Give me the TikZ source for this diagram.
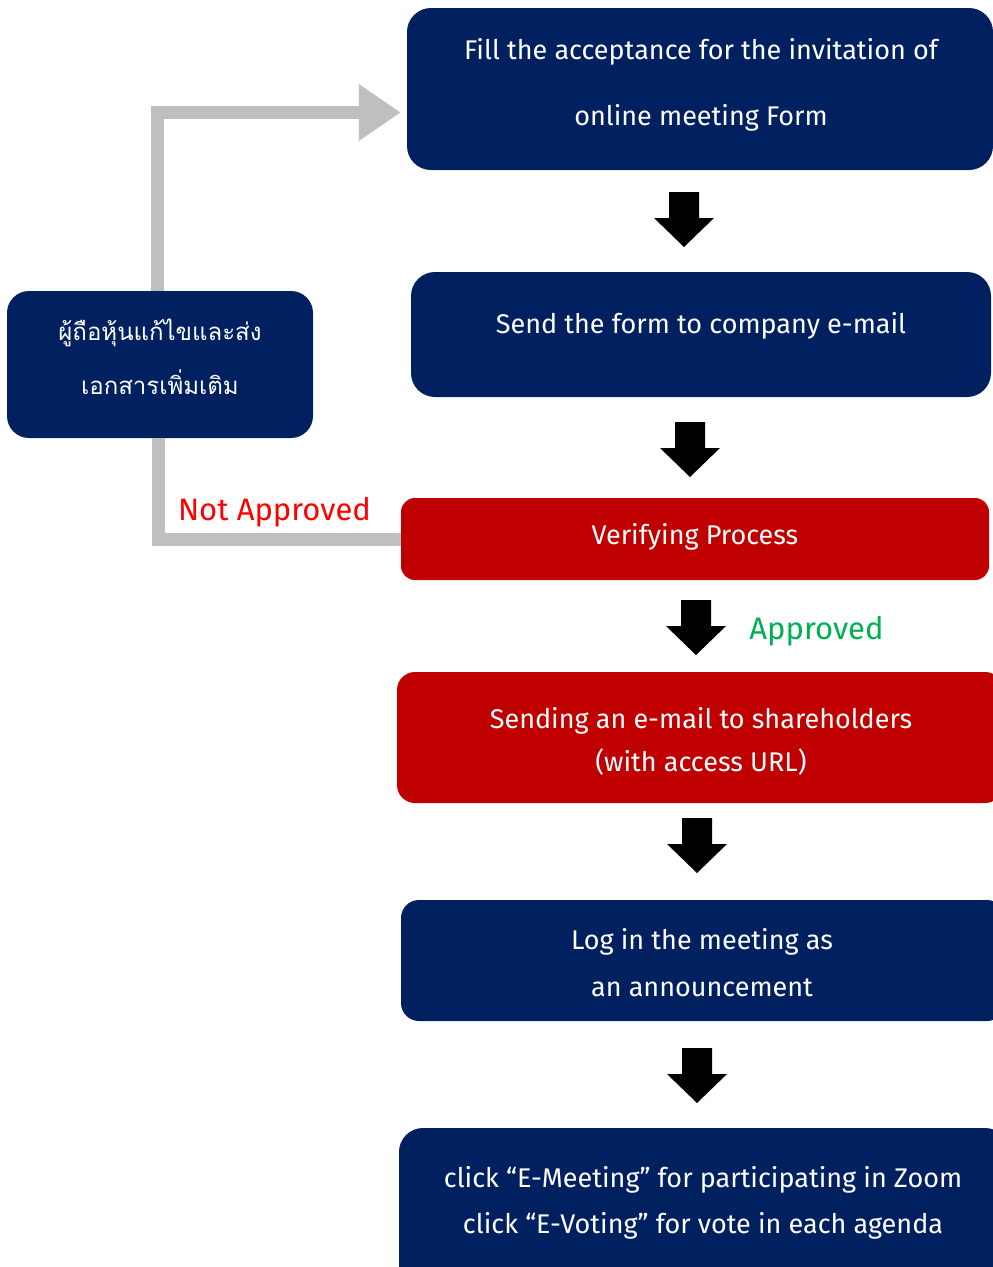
\documentclass[tikz,border=0pt]{standalone}
\usepackage{fontspec}
\setmainfont{Fira Sans}
\newfontfamily\thaifont[Script=Thai]{Loma}
\usetikzlibrary{arrows.meta,calc}
\definecolor{navy}{HTML}{002060}
\definecolor{dred}{HTML}{C00000}
\definecolor{greyc}{HTML}{BFBFBF}
\definecolor{okgreen}{HTML}{00B050}
\definecolor{nored}{HTML}{FF0000}
\tikzset{
  box/.style={draw=none, inner sep=0pt, rounded corners=#1, minimum width=0pt},
  box/.default=24pt,
  navybox/.style={box=#1, fill=navy},
  navybox/.default=24pt,
  redbox/.style={box=#1, fill=dred},
  redbox/.default=14pt,
  txt/.style={text=white, align=center, font=\fontsize{27}{32}\selectfont, inner sep=0pt},
  greyline/.style={draw=greyc, line width=13pt, line join=miter},
  blockarrow/.pic={\fill[black] (-15,-27.5) -- (15,-27.5) -- (15,-1.5) -- (30,-1.5) -- (0,27.5) -- (-30,-1.5) -- (-15,-1.5) -- cycle;}
}
\begin{document}
\begin{tikzpicture}[x=1pt,y=-1pt]
\useasboundingbox (0,0) rectangle (993,1267);
\clip (0,0) rectangle (993,1267);
\fill[white] (0,0) rectangle (993,1267);
% boxes
\node[navybox, minimum width=586pt, minimum height=162pt] (b1) at (700,89) {};
\node[navybox, minimum width=580pt, minimum height=125pt] (b2) at (701,334.5) {};
\node[redbox, minimum width=588pt, minimum height=82pt] (r1) at (695,539) {};
\node[redbox=18pt, minimum width=606pt, minimum height=131pt] (r2) at (700,737.5) {};
\node[navybox=18pt, minimum width=604pt, minimum height=121pt] (l1) at (703,960.5) {};
\node[navybox, minimum width=610pt, minimum height=164pt] (z1) at (704,1210) {};
\node[navybox=22pt, minimum width=306pt, minimum height=147pt] (th) at (160,364.5) {};
% texts
\node[txt] (b1a) at (701,52) {Fill the acceptance for the invitation of};
\node[txt] (b1b) at (701,118) {online meeting Form};
\node[txt] (b2t) at (701,326) {Send the form to company e-mail};
\node[txt] (r1t) at (695,537) {Verifying Process};
\node[txt] (r2a) at (701,721) {Sending an e-mail to shareholders};
\node[txt] (r2b) at (701,762) {(with access URL)};
\node[txt] (l1a) at (702,942) {Log in the meeting as};
\node[txt] (l1b) at (702,988) {an announcement};
\node[txt] (z1a) at (703,1180) {click “E-Meeting” for participating in Zoom};
\node[txt] (z1b) at (703,1226) {click “E-Voting” for vote in each agenda};
\node[txt, font=\thaifont\fontsize{24}{29}\selectfont] (tha) at (160,333) {ผู้ถือหุ้นแก้ไขและส่ง};
\node[txt, font=\thaifont\fontsize{24}{29}\selectfont] (thb) at (160,382) {เอกสารเพิ่มเติม};
% grey connectors
\draw[greyline, -{Triangle[length=42pt,width=54pt]}]
  ($(th.north)+(-2.5,0)$) |- ($(b1.west)+(-6,23.5)$);
\draw[greyline] ($(th.south)+(-1.5,0)$) |- (r1.west);
% labels
\node[text=nored, font=\fontsize{31}{36}\selectfont, inner sep=0pt] (na) at (274.5,512) {Not Approved};
\node[text=okgreen, font=\fontsize{31}{36}\selectfont, inner sep=0pt] (ap) at (816.5,631) {Approved};
% block arrows
\pic at (684,219.5) {blockarrow};
\pic at (690,449.5) {blockarrow};
\pic at (696,627.5) {blockarrow};
\pic at (697,845.5) {blockarrow};
\pic at (697,1075.5) {blockarrow};
\end{tikzpicture}
\end{document}
